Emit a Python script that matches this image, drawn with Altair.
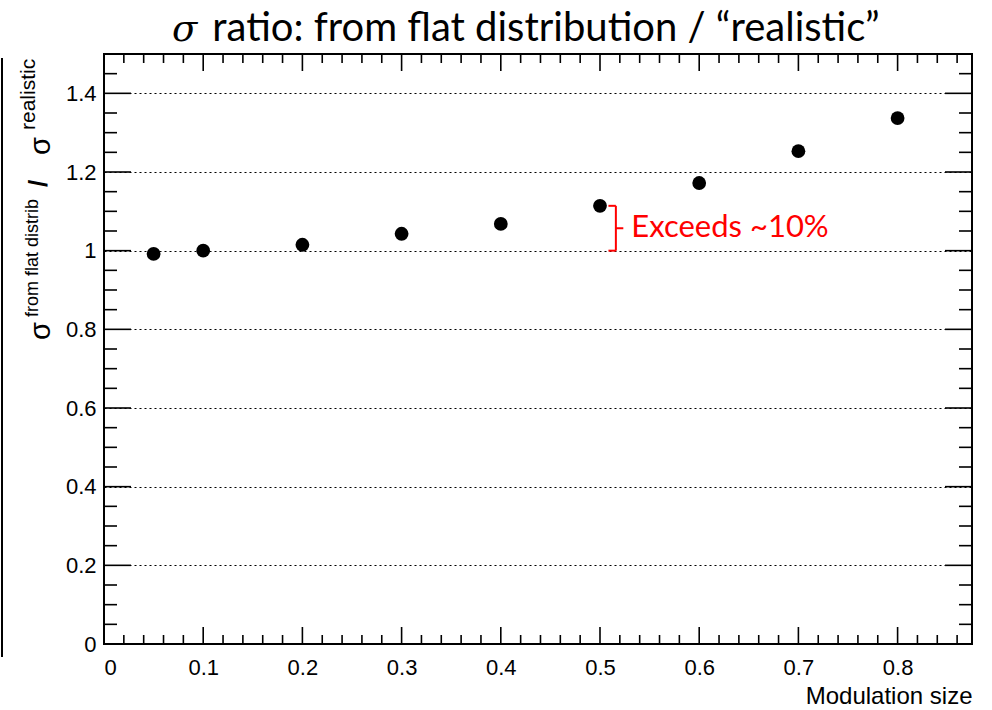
import altair as alt
import pandas as pd

# ---- data ----
mod_size = [0.05, 0.1, 0.2, 0.3, 0.4, 0.5, 0.6, 0.7, 0.8]
sigma_ratio = [0.992, 1.000, 1.015, 1.043, 1.068, 1.114, 1.172, 1.253, 1.337]

x_major = [0.0, 0.1, 0.2, 0.3, 0.4, 0.5, 0.6, 0.7, 0.8]
x_minor = [round(0.02 * i, 2) for i in range(44) if i % 5 != 0]
y_major = [0.0, 0.2, 0.4, 0.6, 0.8, 1.0, 1.2, 1.4]
y_minor = [round(0.05 * i, 2) for i in range(30) if i % 4 != 0]

bracket_x = 0.516
bracket_lo, bracket_hi = 1.0, 1.114
annot_text = "Exceeds ~10%"

W, H = 868, 590
XDOM = [0, 0.875]
YDOM = [0, 1.5]

xs = alt.Scale(domain=XDOM, nice=False, zero=False)
ys = alt.Scale(domain=YDOM, nice=False, zero=False)

df = pd.DataFrame({"x": mod_size, "y": sigma_ratio})
one = pd.DataFrame({"a": [0]})

points = alt.Chart(df).mark_circle(size=190, color="black", opacity=1).encode(
    x=alt.X("x:Q", scale=xs,
            axis=alt.Axis(values=x_major, format="~g", ticks=False, domain=False, grid=False,
                          labelFontSize=22, labelFont="Liberation Sans", labelColor="black",
                          labelPadding=13, title="Modulation size", titleFontSize=24,
                          titleFont="Liberation Sans", titleFontWeight="normal",
                          titleColor="black", titleAnchor="end", titlePadding=6)),
    y=alt.Y("y:Q", scale=ys,
            axis=alt.Axis(values=y_major, format="~g", ticks=False, domain=False,
                          grid=True, gridDash=[2, 3], gridColor="black", gridOpacity=1,
                          gridWidth=1.2,
                          labelFontSize=22, labelFont="Liberation Sans", labelColor="black",
                          labelPadding=8, title=None)),
)

ymaj_df = pd.DataFrame({"v": y_major})
ymin_df = pd.DataFrame({"v": y_minor})
xmaj_df = pd.DataFrame({"v": x_major})
xmin_df = pd.DataFrame({"v": x_minor})

tick_style = dict(color="black", strokeWidth=1.6)

def yticks(d, length):
    left = alt.Chart(d).mark_rule(**tick_style).encode(
        y=alt.Y("v:Q", scale=ys), x=alt.value(0), x2=alt.value(length))
    right = alt.Chart(d).mark_rule(**tick_style).encode(
        y=alt.Y("v:Q", scale=ys), x=alt.value(W - length), x2=alt.value(W))
    return left + right

def xticks(d, length):
    bottom = alt.Chart(d).mark_rule(**tick_style).encode(
        x=alt.X("v:Q", scale=xs), y=alt.value(H), y2=alt.value(H - length))
    top = alt.Chart(d).mark_rule(**tick_style).encode(
        x=alt.X("v:Q", scale=xs), y=alt.value(0), y2=alt.value(length))
    return bottom + top

ticks = yticks(ymaj_df, 27) + yticks(ymin_df, 13) + xticks(xmaj_df, 17) + xticks(xmin_df, 9)

# ---- annotation bracket ----
br_df = pd.DataFrame({"x": [bracket_x], "lo": [bracket_lo], "hi": [bracket_hi],
                      "mid": [(bracket_lo + bracket_hi) / 2],
                      "xl": [bracket_x - 0.0075], "xr": [bracket_x + 0.0075],
                      "t": [annot_text]})
red = "#ff0000"
br_v = alt.Chart(br_df).mark_rule(color=red, strokeWidth=2).encode(
    x=alt.X("x:Q", scale=xs), y=alt.Y("lo:Q", scale=ys), y2="hi:Q")
br_top = alt.Chart(br_df).mark_rule(color=red, strokeWidth=2).encode(
    x=alt.X("xl:Q", scale=xs), x2="x:Q", y=alt.Y("hi:Q", scale=ys))
br_bot = alt.Chart(br_df).mark_rule(color=red, strokeWidth=2).encode(
    x=alt.X("xl:Q", scale=xs), x2="x:Q", y=alt.Y("lo:Q", scale=ys))
br_mid = alt.Chart(br_df).mark_rule(color=red, strokeWidth=2).encode(
    x=alt.X("x:Q", scale=xs), x2="xr:Q", y=alt.Y("mid:Q", scale=ys))
br_text = alt.Chart(br_df).mark_text(color=red, font="Lato", fontSize=31, align="left",
                                     baseline="middle", dx=8).encode(
    x=alt.X("xr:Q", scale=xs), y=alt.Y("mid:Q", scale=ys), text="t:N")

# ---- title (sigma italic + rest) ----
t_sig = alt.Chart(one).mark_text(text="σ", font="DejaVu Serif", fontStyle="italic",
                                 fontSize=37, align="left", baseline="alphabetic",
                                 color="black").encode(x=alt.value(68), y=alt.value(-13))
t_rest = alt.Chart(one).mark_text(text="ratio: from flat distribution / “realistic”", font="Lato",
                                  fontSize=40, align="center", baseline="alphabetic",
                                  color="black").encode(x=alt.value(442), y=alt.value(-13))

# ---- y-axis title (rotated, with superscripts) ----
ylab_font = "Liberation Sans"
yl1 = alt.Chart(one).mark_text(text="σ", font=ylab_font, fontSize=29, angle=270, align="left",
                               baseline="alphabetic", color="black").encode(
    x=alt.value(-54), y=alt.value(286))
yl2 = alt.Chart(one).mark_text(text="from flat distrib", font=ylab_font, fontSize=18, angle=270,
                               align="left", baseline="alphabetic", color="black").encode(
    x=alt.value(-66), y=alt.value(263))
yl3a = alt.Chart(one).mark_text(text="/", font=ylab_font, fontSize=26, fontWeight="bold",
                                angle=270, align="left", baseline="alphabetic",
                                color="black").encode(x=alt.value(-57), y=alt.value(133))
yl3b = alt.Chart(one).mark_text(text="σ", font=ylab_font, fontSize=29,
                                angle=270, align="left", baseline="alphabetic",
                                color="black").encode(x=alt.value(-54), y=alt.value(101))
yl4 = alt.Chart(one).mark_text(text="realistic", font=ylab_font, fontSize=21, angle=270,
                               align="left", baseline="alphabetic", color="black").encode(
    x=alt.value(-69), y=alt.value(76))

# ---- left decorative line ----
side_line = alt.Chart(one).mark_rule(color="black", strokeWidth=2).encode(
    x=alt.value(-102), y=alt.value(4), y2=alt.value(603))

chart = alt.layer(
    points, ticks, br_v, br_top, br_bot, br_mid, br_text,
    t_sig, t_rest, yl1, yl2, yl3a, yl3b, yl4, side_line
).properties(
    width=W, height=H,
    autosize=alt.AutoSizeParams(type="none"),
    padding={"left": 104, "top": 54, "right": 20, "bottom": 66},
    background="white",
).configure_view(stroke="black", strokeWidth=2)

chart.save("out.html", embed_options={"renderer": "svg", "actions": False})
